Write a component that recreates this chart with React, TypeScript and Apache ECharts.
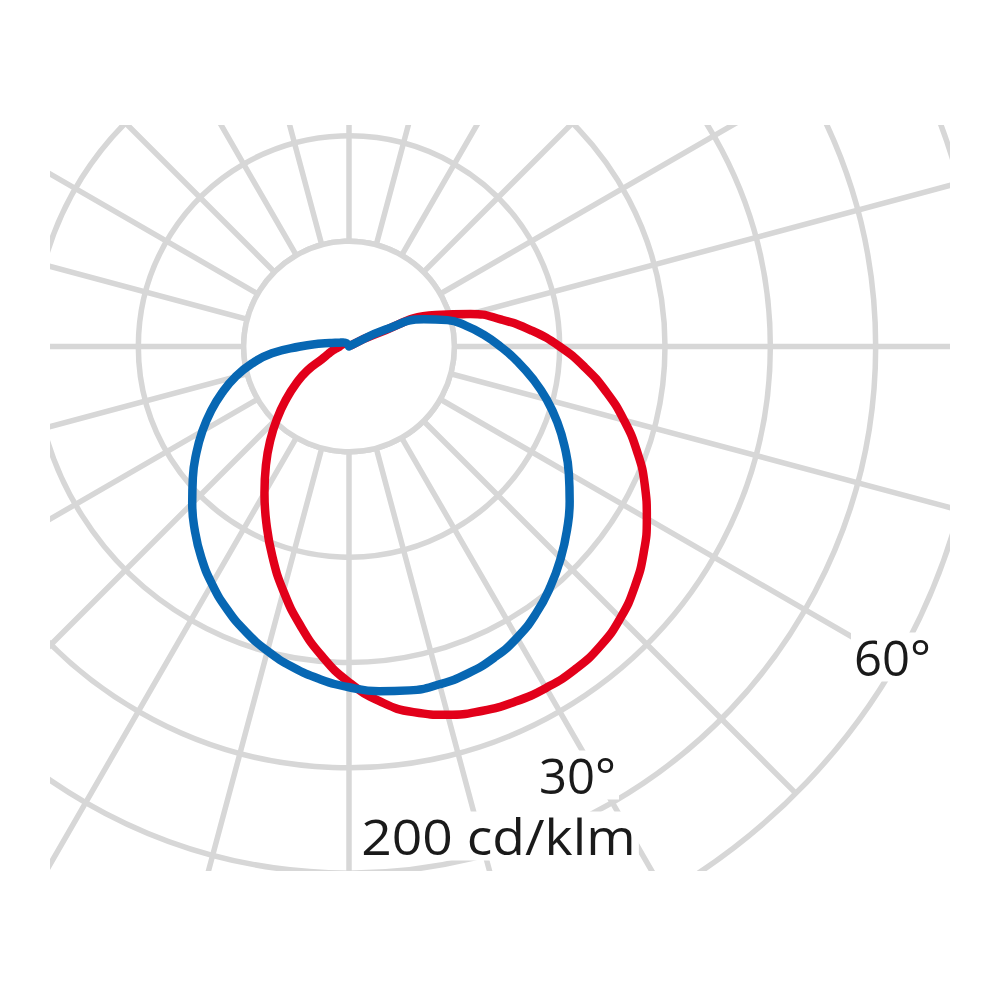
import React, { useEffect, useRef } from "react";
import * as echarts from "echarts";

// Polar angle (degrees from nadir, positive to the right)
const ANGLES = [
  -180, -175, -170, -165, -160, -155, -150, -145, -140, -135, -130, -125, -120,
  -115, -110, -105, -100, -95, -90, -85, -80, -75, -70, -65, -60, -55, -50, -45,
  -40, -35, -30, -25, -20, -15, -10, -5, 0, 5, 10, 15, 20, 25, 30, 35, 40, 45,
  50, 55, 60, 65, 70, 75, 80, 85, 90, 95, 100, 105, 110, 115, 120, 125, 130,
  135, 140, 145, 150, 155, 160, 165, 170, 175, 180,
];

// Luminous intensity, cd/klm (red curve)
const RED_VALUES: (number | null)[] = [
  null, null, null, null, null, null, null, null, null, null, null, null, null,
  2.4, 2.5, 2.7, 2.9, 3.2, 3.6, 4.1, 5.2, 6.7, 8.4, 11.3, 18.3, 24.5, 31.1, 38.5,
  46.5, 55.0, 64.2, 74.2, 85.0, 96.2, 107.3, 118.0, 127.5, 135.3, 141.0, 144.8, 147.3, 148.9, 149.7, 149.7, 148.5, 145.8,
  141.7, 136.6, 130.6, 123.9, 116.4, 108.1, 99.2, 89.8, 80.0, 69.6, 58.8, 47.8, 35.0, 11, 1, null, null,
  null, null, null, null, null, null, null, null, null, null,
];

// Luminous intensity, cd/klm (blue curve)
const BLUE_VALUES: number[] = [
  0, 0.1, 0.3, 0.5, 0.7, 0.9, 1.1, 1.4, 1.7, 2.0, 2.3, 2.7, 3.0,
  3.5, 4.2, 5.4, 7.4, 11.8, 18.6, 29.4, 37.5, 44.7, 51.3, 57.8, 64.3, 70.8, 77.4, 84.2,
  91.1, 97.8, 104.1, 109.9, 115.1, 119.7, 123.6, 126.8, 129.4, 131.4, 132.6, 132.8, 132.1, 130.4, 127.7, 123.8, 119.0, 113.7,
  108.1, 102.3, 96.4, 90.4, 84.2, 77.7, 70.9, 64.1, 57.5, 51.3, 45.2, 38.7, 30.3, 15, 1.5, 0.8, 0.5,
  0.4, 0.3, 0.2, 0.2, 0.1, 0.1, 0.1, 0, 0, 0,
];

const RING_STEP = 40; // cd/klm per ring
const RING_COUNT = 6;
const SPOKE_STEP = 15; // degrees

const LABELS = [
  { text: "30°", x: 486, y: 650, scaleX: 1.0 },
  { text: "200 cd/klm", x: 308, y: 711, scaleX: 1.09 },
  { text: "60°", x: 801, y: 532, scaleX: 1.0 },
];

const GRID_COLOR = "#d7d7d7";
const RED_COLOR = "#e2001a";
const BLUE_COLOR = "#0767b3";

export default function App() {
  const ref = useRef<HTMLDivElement>(null);

  useEffect(() => {
    if (!ref.current) return;
    const chart = echarts.init(ref.current, null, { renderer: "svg" });
    const cx = 299;
    const cy = 221.5;
    const R = 632;

    const redData: [number, number][] = [];
    RED_VALUES.forEach((v, i) => {
      if (v !== null) redData.push([v, ANGLES[i]]);
    });
    const blueData: [number, number][] = BLUE_VALUES.map((v, i) => [v, ANGLES[i]]);

    chart.setOption({
      animation: false,
      backgroundColor: "#ffffff",
      polar: { center: [cx, cy], radius: R },
      angleAxis: {
        type: "value",
        min: -180,
        max: 180,
        interval: SPOKE_STEP,
        startAngle: 90,
        clockwise: false,
        z: 0,
        axisLine: { show: false },
        axisTick: { show: false },
        axisLabel: { show: false },
        splitLine: { show: true, lineStyle: { color: GRID_COLOR, width: 5.5 } },
      },
      radiusAxis: {
        type: "value",
        min: 0,
        max: RING_STEP * RING_COUNT,
        interval: RING_STEP,
        z: 0,
        axisLine: { show: false },
        axisTick: { show: false },
        axisLabel: { show: false },
        splitLine: { show: true, lineStyle: { color: GRID_COLOR, width: 5.5 } },
      },
      graphic: {
        elements: [
          {
            type: "circle",
            z: 1,
            shape: { cx, cy, r: R / RING_COUNT },
            style: { fill: "#ffffff", stroke: GRID_COLOR, lineWidth: 5.5 },
            silent: true,
          },
          ...LABELS.map((l) => ({
            type: "text",
            z: 10,
            x: l.x,
            y: l.y,
            scaleX: l.scaleX,
            silent: true,
            style: {
              text: l.text,
              fontFamily: '"Open Sans"',
              fontSize: 49,
              fill: "#1a1a1a",
              align: "left",
              verticalAlign: "middle",
              backgroundColor: "#ffffff",
              padding: [0, 3],
            },
          })),
        ],
      },
      series: [
        {
          type: "line",
          coordinateSystem: "polar",
          data: redData,
          showSymbol: false,
          smooth: 0.5,
          z: 3,
          lineStyle: { color: RED_COLOR, width: 8.5, cap: "round", join: "round" },
        },
        {
          type: "line",
          coordinateSystem: "polar",
          data: blueData,
          showSymbol: false,
          smooth: 0.5,
          z: 4,
          lineStyle: { color: BLUE_COLOR, width: 8.5, cap: "round", join: "round" },
        },
      ],
    });
    return () => chart.dispose();
  }, []);

  return (
    <div
      ref={ref}
      style={{
        position: "absolute",
        left: 50,
        top: 125,
        width: 900,
        height: 746,
        overflow: "hidden",
      }}
    />
  );
}
